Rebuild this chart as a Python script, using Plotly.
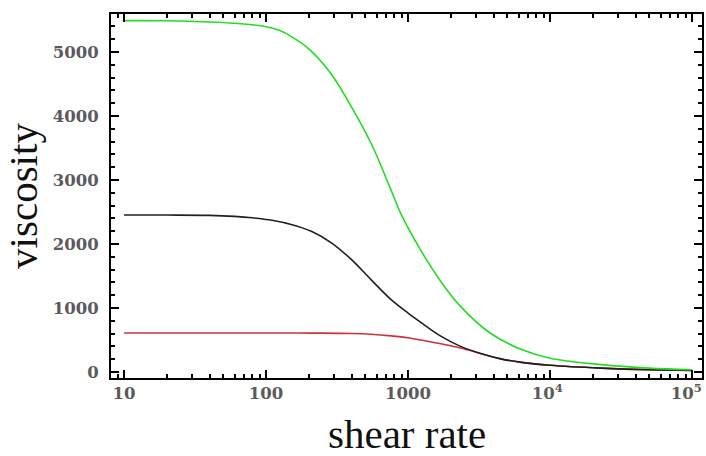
import plotly.graph_objects as go

# shear rate sample points
shear_green = [10, 20, 40, 60, 80, 100, 125, 150, 200, 280, 400, 550, 750, 900, 1230, 1700, 2340, 3800, 6300, 10000, 23000, 50000, 100000]
visc_green = [5490, 5488, 5470, 5450, 5425, 5395, 5335, 5245, 5050, 4690, 4140, 3570, 2870, 2450, 1900, 1415, 1025, 605, 350, 215, 115, 60, 35]

shear_black = [10, 20, 40, 60, 80, 110, 150, 210, 290, 400, 550, 760, 1000, 1230, 1700, 2340, 3240, 4500, 6300, 10000, 23000, 50000, 100000]
visc_black = [2453, 2452, 2448, 2432, 2410, 2370, 2305, 2195, 2015, 1755, 1440, 1130, 920, 775, 560, 400, 290, 205, 150, 105, 60, 35, 25]

shear_red = [10, 100, 210, 400, 550, 760, 1000, 1230, 1700, 2340, 3240, 4500, 6300, 10000, 23000, 50000, 100000]
visc_red = [610, 610, 608, 602, 590, 565, 535, 500, 440, 375, 290, 205, 150, 105, 60, 35, 25]

x_tickvals = [10, 100, 1000, 10000, 100000]
x_ticktext = ["10", "100", "1000", "10<sup>4</sup>\u00a0", "10<sup>5</sup>\u00a0\u00a0"]
y_tickvals = [0, 1000, 2000, 3000, 4000, 5000]

fig = go.Figure()
fig.add_trace(go.Scatter(x=shear_red, y=visc_red, mode="lines", line=dict(color="#d0303a", width=1.6, shape="spline")))
fig.add_trace(go.Scatter(x=shear_black, y=visc_black, mode="lines", line=dict(color="#202020", width=1.6, shape="spline")))
fig.add_trace(go.Scatter(x=shear_green, y=visc_green, mode="lines", line=dict(color="#22dd22", width=1.6, shape="spline")))

tickfont = dict(family="DejaVu Serif", size=16.5, color="#5a5a5a", weight="bold")
titlefont = dict(family="Liberation Serif", size=41, color="#111111")
fig.update_layout(
    width=706, height=456,
    margin=dict(l=111, r=4, t=14, b=78),
    paper_bgcolor="white", plot_bgcolor="white",
    showlegend=False,
    xaxis=dict(
        type="log", range=[0.908, 5.07], automargin=False,
        tickvals=x_tickvals, ticktext=x_ticktext, tickfont=tickfont,
        ticks="inside", ticklen=8, tickwidth=1.5, tickcolor="black", ticklabelstandoff=-1,
        ticklabeloverflow="allow",
        minor=dict(ticks="inside", ticklen=4, tickwidth=1.5, tickcolor="black", dtick="D1", showgrid=False),
        showline=True, linecolor="black", linewidth=2, mirror="allticks",
        showgrid=False, zeroline=False,
    ),
    yaxis=dict(
        range=[-94, 5594], automargin=False,
        tickvals=y_tickvals, tickfont=tickfont,
        ticks="inside", ticklen=8, tickwidth=1.5, tickcolor="black", ticklabelstandoff=7,
        ticklabeloverflow="allow",
        minor=dict(ticks="inside", ticklen=4, tickwidth=1.5, tickcolor="black", dtick=200, showgrid=False),
        showline=True, linecolor="black", linewidth=2, mirror="allticks",
        showgrid=False, zeroline=False,
        title=dict(text="viscosity", font=titlefont, standoff=14),
    ),
    annotations=[dict(text="shear rate", font=titlefont, xref="paper", yref="paper",
                      x=0.5, y=0, xanchor="center", yanchor="top", yshift=-31, showarrow=False)],
)
# remove the default page margin so the figure fills the window exactly
fig.write_html("out.html", config={"displayModeBar": False},
               post_script="document.body.style.margin='0';")
